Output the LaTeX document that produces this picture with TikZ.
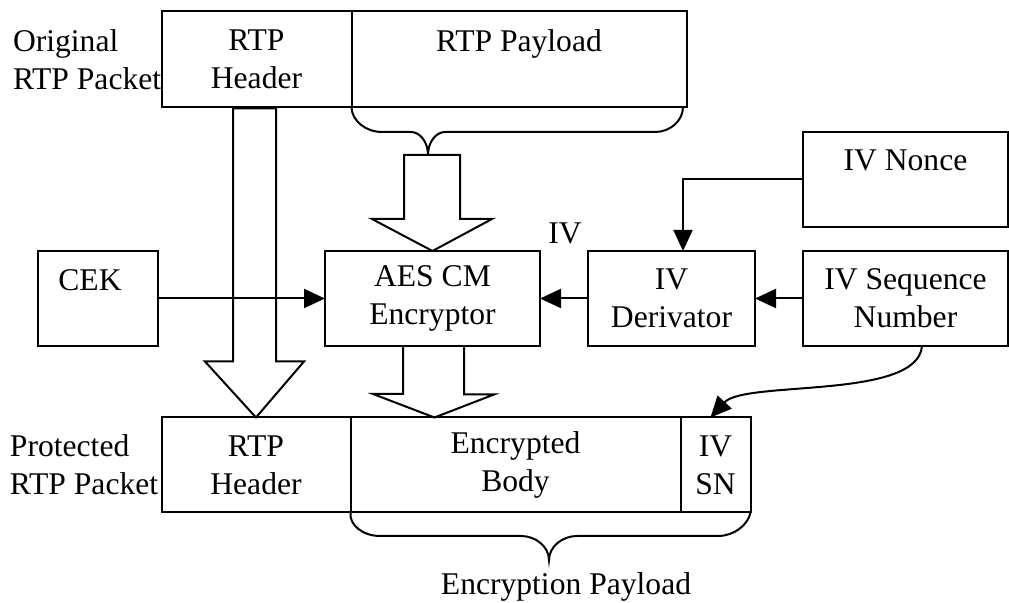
\documentclass[tikz,border=0pt]{standalone}
\usepackage{fontspec}
\setmainfont{Liberation Serif}
\usepackage{tikz}
\usetikzlibrary{positioning, calc, arrows.meta}

\begin{document}
\begin{tikzpicture}[x=0.5pt, y=-0.5pt, line width=1pt, >={Triangle[length=10.5pt,width=9.5pt]},
    font=\fontsize{15.8}{18.9}\selectfont,
    box/.style={draw, align=center, inner sep=0pt, outer sep=0pt, minimum height=47.5pt},
    side/.style={align=left, inner sep=0pt, anchor=west}]
			\useasboundingbox (0,0) rectangle (1009,603);

			% Original packet
			\node (hdrA) [box, minimum width=95pt, minimum height=48pt] at (256.5,59.5) {RTP\\Header};
			\node (payA) [box, minimum width=167.5pt, minimum height=48pt, right=0pt of hdrA] {RTP Payload\\~};
			\node (origL) [side] at (12,60) {Original\\RTP Packet};

			% Middle row
			\node (cek) [box, minimum width=60pt] at (98,298.5) {CEK\hspace*{8pt}\\~};
			\node (aes) [box, minimum width=107.5pt] at (432.5,298.5) {AES CM\\Encryptor};
			\node (deriv) [box, minimum width=83.5pt] at (671.5,298.5) {IV\\Derivator};
			\node (seqn) [box, minimum width=102.5pt] at (905.5,298.5) {IV Sequence\\Number};
			\node (nonce) [box, minimum width=102.5pt] at (905.5,179.5) {IV Nonce\\~};
			\node (ivL) at (565,233) {IV};

			% Protected packet
			\node (hdrB) [box, minimum width=94.5pt] at (256,465) {RTP\\Header};
			\node (body) [box, minimum width=165pt, right=0pt of hdrB] {Encrypted\\Body};
			\node (ivsn) [box, minimum width=35pt, right=0pt of body] {IV\\SN};
			\node (protL) [side] at (9,465) {Protected\\RTP Packet};
			\node (encL) at (566,587) {Encryption Payload};

			% Braces
			\draw (payA.south west) .. controls (352,121) and (366,132) .. (382,132)
				-- (411,132) .. controls (420,132) and (428,142) .. (428,155)
				.. controls (428,142) and (436,132) .. (445,132)
				-- (655,132) .. controls (670,132) and (683,121) .. (683,107);
			\draw (body.south west) .. controls (349,525) and (363,536) .. (380,536)
				-- (521,536) .. controls (536,536) and (549,547) .. (549,560)
				.. controls (549,547) and (562,536) .. (577,536)
				-- (718,536) .. controls (734,536) and (748,525) .. (ivsn.south east);

			% Block arrows
			\draw ($(hdrA.south)+(-23.5,1)$) -- ++(0,253) -- ++(-28,0) -- (hdrB.north)
				-- ++(48,-56) -- ++(-28,0) -- ++(0,-253) -- cycle;
			\draw (404,155) -- (404,219) -- (372,219) -- (aes.north) -- (492,219) -- (460,219) -- (460,155) -- cycle;
			\draw ($(aes.south)+(-29.5,0)$) -- ++(0,48) -- ++(-30,0) -- ($(body.north west)+(84,0)$)
				-- ++(59.5,-23) -- ++(-30,0) -- ++(0,-48);

			% Arrows
			\draw[->] (cek) -- (aes);
			\draw[->] (deriv) -- (aes);
			\draw[->] (seqn) -- (deriv);
			\draw[->] (nonce.west) -| ($(deriv.north)+(11.5,0)$);
			\draw[->] ($(seqn.south)+(16.5,0)$) .. controls (918,400) and (745,380) .. ($(ivsn.north)+(-5,0)$);
		\end{tikzpicture}
\end{document}
